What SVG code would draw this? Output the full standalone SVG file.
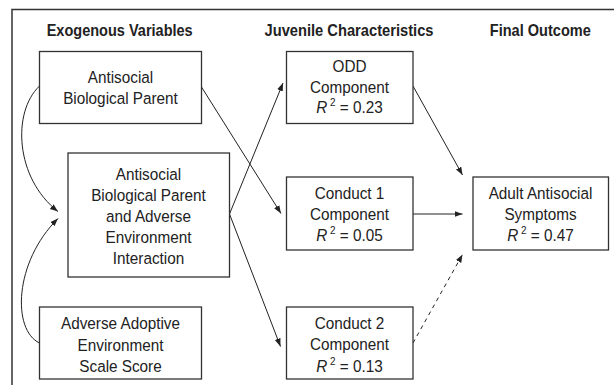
<svg xmlns="http://www.w3.org/2000/svg" width="614" height="385" viewBox="0 0 614 385">
<style>
.box{fill:#fff;stroke:#333;stroke-width:1.3}
.t{font-family:"Liberation Sans",Arial,sans-serif;font-size:17px;fill:#222;text-anchor:middle}
.h{font-family:"Liberation Sans",Arial,sans-serif;font-size:16.5px;font-weight:bold;fill:#222;text-anchor:middle}
.c{fill:none;stroke:#222;stroke-width:1}
.i{font-style:italic}
.s{font-size:11px}
</style>
<defs>
<marker id="ah" markerUnits="userSpaceOnUse" markerWidth="9" markerHeight="7" refX="8" refY="3" orient="auto">
<path d="M0,0 L8,3 L0,6 z" fill="#222"/>
</marker>
</defs>
<rect width="614" height="385" fill="#fff"/>
<path d="M12,385 V9.5 H614" fill="none" stroke="#333" stroke-width="1.5"/>
<g id="headers">
<text class="h" x="119.7" y="35.5" textLength="146" lengthAdjust="spacingAndGlyphs">Exogenous Variables</text>
<text class="h" x="349" y="35.5" textLength="169" lengthAdjust="spacingAndGlyphs">Juvenile Characteristics</text>
<text class="h" x="540.3" y="35.5" textLength="101" lengthAdjust="spacingAndGlyphs">Final Outcome</text>
</g>
<g id="connectors">
<path class="c" d="M201.5,87 L281,213.5" marker-end="url(#ah)"/>
<path class="c" d="M229.5,214 L283,83" marker-end="url(#ah)"/>
<path class="c" d="M229.5,214 L280.5,346.5" marker-end="url(#ah)"/>
<path class="c" d="M413,86 L462.5,175" marker-end="url(#ah)"/>
<path class="c" d="M413,214 L462.5,214" marker-end="url(#ah)"/>
<path class="c" d="M413,343 L462.5,254.5" stroke-dasharray="4,4" marker-end="url(#ah)"/>
<path class="c" d="M39.5,86 C12,112 15,178 58,211.5" marker-end="url(#ah)"/>
<path class="c" d="M39.5,343 C12,330 14,262 58,218.5" marker-end="url(#ah)"/>
</g>
<g id="n1">
<rect class="box" x="39.5" y="51.5" width="162" height="72"/>
<g transform="matrix(0.9,0,0,1,12.05,0)">
<text class="t" x="120.5" y="83.5">Antisocial</text>
<text class="t" x="120.5" y="104">Biological Parent</text>
</g>
</g>
<g id="n2">
<rect class="box" x="68" y="153" width="161.5" height="124"/>
<g transform="matrix(0.9,0,0,1,14.85,0)">
<text class="t" x="148.5" y="180">Antisocial</text>
<text class="t" x="148.5" y="201">Biological Parent</text>
<text class="t" x="148.5" y="222">and Adverse</text>
<text class="t" x="148.5" y="243">Environment</text>
<text class="t" x="148.5" y="264">Interaction</text>
</g>
</g>
<g id="n3">
<rect class="box" x="39.5" y="307" width="162" height="72"/>
<g transform="matrix(0.9,0,0,1,12.05,0)">
<text class="t" x="120.5" y="329.5">Adverse Adoptive</text>
<text class="t" x="120.5" y="351">Environment</text>
<text class="t" x="120.5" y="372.5">Scale Score</text>
</g>
</g>
<g id="n4">
<rect class="box" x="286.5" y="51.5" width="126.5" height="72"/>
<g transform="matrix(0.9,0,0,1,34.95,0)">
<text class="t" x="349.5" y="72.5">ODD</text>
<text class="t" x="349.5" y="93">Component</text>
<text class="t" x="349.5" y="113.5"><tspan class="i">R</tspan><tspan class="s" dy="-7"> 2</tspan><tspan dy="7"> = 0.23</tspan></text>
</g>
</g>
<g id="n5">
<rect class="box" x="286.5" y="177" width="126.5" height="73"/>
<g transform="matrix(0.9,0,0,1,34.95,0)">
<text class="t" x="349.5" y="199.5">Conduct 1</text>
<text class="t" x="349.5" y="220.5">Component</text>
<text class="t" x="349.5" y="241.5"><tspan class="i">R</tspan><tspan class="s" dy="-7"> 2</tspan><tspan dy="7"> = 0.05</tspan></text>
</g>
</g>
<g id="n6">
<rect class="box" x="286.5" y="307" width="126.5" height="72"/>
<g transform="matrix(0.9,0,0,1,34.95,0)">
<text class="t" x="349.5" y="329.5">Conduct 2</text>
<text class="t" x="349.5" y="350.5">Component</text>
<text class="t" x="349.5" y="372"><tspan class="i">R</tspan><tspan class="s" dy="-7"> 2</tspan><tspan dy="7"> = 0.13</tspan></text>
</g>
</g>
<g id="n7">
<rect class="box" x="473" y="177" width="135.5" height="73"/>
<g transform="matrix(0.9,0,0,1,54.05,0)">
<text class="t" x="540.5" y="199.5">Adult Antisocial</text>
<text class="t" x="540.5" y="220.5">Symptoms</text>
<text class="t" x="540.5" y="241.5"><tspan class="i">R</tspan><tspan class="s" dy="-7"> 2</tspan><tspan dy="7"> = 0.47</tspan></text>
</g>
</g>
</svg>
